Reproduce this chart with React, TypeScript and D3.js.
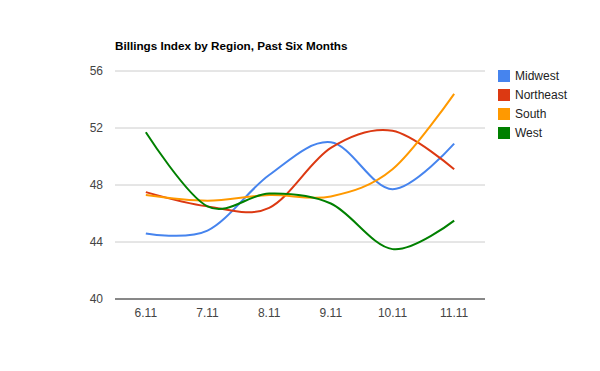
import React from "react";
import * as d3 from "d3";

const months = ["6.11", "7.11", "8.11", "9.11", "10.11", "11.11"];
const midwest = [44.6, 44.8, 48.7, 51.0, 47.7, 50.9];
const northeast = [47.5, 46.5, 46.4, 50.6, 51.8, 49.1];
const south = [47.3, 46.9, 47.3, 47.2, 49.1, 54.4];
const west = [51.7, 46.5, 47.4, 46.7, 43.5, 45.5];
const yTicks = [40, 44, 48, 52, 56];

const series = [
    { name: "Midwest", values: midwest, color: "#4684ee" },
    { name: "Northeast", values: northeast, color: "#dc3912" },
    { name: "South", values: south, color: "#ff9900" },
    { name: "West", values: west, color: "#008000" },
];

const W = 600;
const H = 371;
const margin = { top: 71, right: 115, bottom: 72, left: 115 };
const innerW = W - margin.left - margin.right;
const innerH = H - margin.top - margin.bottom;
const font = "Arial, 'Liberation Sans', sans-serif";

const App = () => {
    const x = d3.scaleBand().domain(months).range([0, innerW]);
    const y = d3.scaleLinear().domain([40, 56]).range([innerH, 0]);

    const line = d3.line<number>()
        .x((d, i) => (x(months[i]) ?? 0) + x.bandwidth() / 2)
        .y(d => y(d))
        .curve(d3.curveCardinal);

    return (
        <svg width={W} height={H} style={{ position: "absolute", left: 0, top: 0, background: "white" }}>
            <text x={margin.left} y={50} fontFamily={font} fontSize={11.7} fontWeight="bold" fill="#000">
                Billings Index by Region, Past Six Months
            </text>
            <g transform={`translate(${margin.left},${margin.top})`}>
                {yTicks.map(t => (
                    <g key={t}>
                        {t !== 40 && (
                            <line x1={0} x2={innerW} y1={y(t)} y2={y(t)} stroke="#cccccc" strokeWidth={1} />
                        )}
                        <text x={-12} y={y(t)} dy="0.35em" textAnchor="end" fontFamily={font} fontSize={12} fill="#444">
                            {t}
                        </text>
                    </g>
                ))}
                {series.map(s => (
                    <path key={s.name} d={line(s.values) ?? ""} fill="none" stroke={s.color} strokeWidth={2} />
                ))}
                <line x1={0} x2={innerW} y1={innerH} y2={innerH} stroke="#111" strokeWidth={1} />
                {months.map(m => (
                    <text key={m} x={(x(m) ?? 0) + x.bandwidth() / 2} y={innerH + 18} textAnchor="middle"
                        fontFamily={font} fontSize={12} fill="#444">
                        {m}
                    </text>
                ))}
            </g>
            <g transform="translate(498,70)">
                {series.map((s, i) => (
                    <g key={s.name} transform={`translate(0,${i * 19})`}>
                        <rect x={0} y={0} width={12} height={12} fill={s.color} />
                        <text x={17} y={6} dy="0.35em" fontFamily={font} fontSize={12} fill="#222">
                            {s.name}
                        </text>
                    </g>
                ))}
            </g>
        </svg>
    );
};

export default App;
